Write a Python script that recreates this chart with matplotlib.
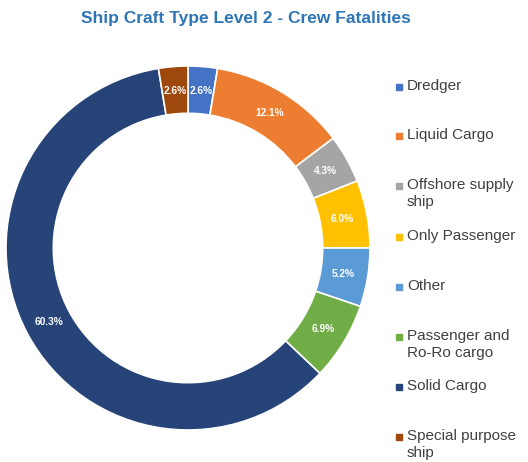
import numpy as np
import matplotlib.pyplot as plt
from matplotlib.patches import Rectangle

plt.rcParams['font.family'] = ['Liberation Sans', 'DejaVu Sans']

# data
categories = ['Dredger', 'Liquid Cargo', 'Offshore supply\nship', 'Only Passenger',
              'Other', 'Passenger and\nRo-Ro cargo', 'Solid Cargo', 'Special purpose\nship']
shares = [2.6, 12.1, 4.3, 6.0, 5.2, 6.9, 60.3, 2.6]
colors = ['#4472C4', '#ED7D31', '#A5A5A5', '#FFC000', '#5B9BD5', '#70AD47', '#264478', '#9E480E']

fig = plt.figure(figsize=(5.28, 4.62), dpi=100)
W, H = 528, 462

# donut: centre ~ (188, 248), outer radius ~182 px
cx, cy, R = 188, 248, 182
ax = fig.add_axes([(cx - R) / W, 1 - (cy + R) / H, 2 * R / W, 2 * R / H])
wedges, texts, autotexts = ax.pie(shares, colors=colors, startangle=90, counterclock=False,
                                  radius=1.0, autopct='%1.1f%%', pctdistance=0.865,
                                  wedgeprops=dict(width=0.26, edgecolor='white', linewidth=1.2),
                                  textprops=dict(color='white', fontsize=7.3, fontweight='bold'))
ax.set_xlim(-1, 1)
ax.set_ylim(-1, 1)
ax.set_aspect('equal')

fig.text(0.5 * (83 + 408) / W, 1 - 18 / H, 'Ship Craft Type Level 2 - Crew Fatalities',
         ha='center', va='center', fontsize=12.5, fontweight='bold', color='#2E75B6')

# legend, placed by hand to follow the reference spacing
legend_y = [87, 136, 186, 237, 287, 337, 387, 437]
for lab, col, y in zip(categories, colors, legend_y):
    fig.patches.append(Rectangle((396 / W, 1 - (y + 3) / H), 6 / W, 6 / H,
                                 transform=fig.transFigure, color=col))
    fig.text(407 / W, 1 - (y - 8) / H, lab, ha='left', va='top', fontsize=11,
             color='#404040', linespacing=1.3)

fig.savefig('out.png', dpi=100)
